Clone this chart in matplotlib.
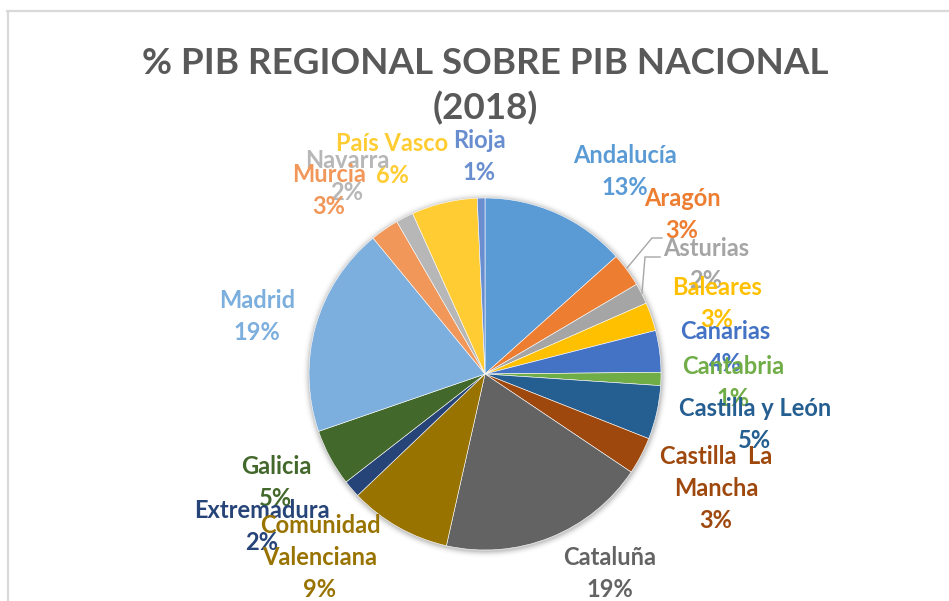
import matplotlib
matplotlib.use("Agg")
import matplotlib.pyplot as plt
from matplotlib.patches import Circle
from matplotlib.lines import Line2D

# Share of national GDP by autonomous community, 2018 (%)
regions = ["Andalucía", "Aragón", "Asturias", "Baleares", "Canarias", "Cantabria",
           "Castilla y León", "Castilla  La\nMancha", "Cataluña",
           "Comunidad\nValenciana", "Extremadura", "Galicia", "Madrid", "Murcia",
           "Navarra", "País Vasco", "Rioja"]
gdp_share = [13.3, 3.1, 1.9, 2.6, 3.8, 1.2, 4.9, 3.4, 19.0, 9.3, 1.6, 5.2, 19.2,
             2.6, 1.6, 6.0, 0.7]
title = "% PIB REGIONAL SOBRE PIB NACIONAL\n(2018)"

# Office palette for 17 points
colors = ["#5B9BD5", "#ED7D31", "#A5A5A5", "#FFC000", "#4472C4", "#70AD47",
          "#255E91", "#9E480E", "#636363", "#997300", "#264478", "#43682B",
          "#7CAFDD", "#F1975A", "#B7B7B7", "#FFCD33", "#698ED0"]

W, H = 949, 601
fig = plt.figure(figsize=(W / 100, H / 100), dpi=100)
fig.patch.set_facecolor("white")
ax = fig.add_axes([0, 0, 1, 1])


def Y(y):
    """Pixel row (from top) to data y."""
    return H - y


cx, cy, r = 485, 374, 176

# soft shadow around the pie
for k, a in zip(range(1, 8), [0.06, 0.05, 0.04, 0.03, 0.02, 0.012, 0.006]):
    ax.add_patch(Circle((cx + 0.5, Y(cy) - 1), r + k, facecolor="black",
                        edgecolor="none", alpha=a, zorder=0))

wedges, _ = ax.pie(gdp_share, colors=colors, startangle=90, counterclock=False,
                   center=(cx, Y(cy)), radius=r,
                   wedgeprops=dict(edgecolor="white", linewidth=0.4))
for w in wedges:
    w.set_zorder(2)

ax.set_xlim(0, W)
ax.set_ylim(0, H)
ax.set_aspect("equal")
ax.axis("off")

font = "Lato"
total = sum(gdp_share)

# label layout: centre x and first-line centre y (pixels), draw order
label_pos = [(625, 155), (682, 198), (706, 248), (717, 287), (725, 331),
             (733, 366), (755, 408), (716, 456), (610, 557), (320, 525),
             (262, 510), (276, 466), (257, 300), (329, 174), (347, 160),
             (392, 143), (479, 140)]
label_z = [5, 6, 5, 6, 5, 6, 7, 5, 5, 7, 6, 5, 5, 7, 6, 5, 5]
pitch = 32

for name, v, col, (lx, ly), z in zip(regions, gdp_share, colors, label_pos, label_z):
    lines = name.split("\n") + [f"{round(v / total * 100):d}%"]
    for i, line in enumerate(lines):
        ax.text(lx, Y(ly + i * pitch + 8), line, ha="center", va="baseline",
                fontsize=17, fontweight="bold", color=col, family=font,
                zorder=z)

# leader lines for the crowded upper-right labels
for pts in ([(627, 268), (652, 238), (662, 238)],
            [(642, 293), (645, 257), (660, 257)]):
    ax.plot([p[0] for p in pts], [Y(p[1]) for p in pts], color="#A6A6A6",
            lw=1.0, zorder=3, solid_joinstyle="miter")

# title
t1, t2 = title.split("\n")
ax.text(485, Y(74), t1, ha="center", va="baseline", fontsize=26.5,
        fontweight="bold", color="#595959", family=font, zorder=4)
ax.text(485, Y(119), t2, ha="center", va="baseline", fontsize=26.5,
        fontweight="bold", color="#595959", family=font, zorder=4)

# chart-area frame (top and left edges)
fig.add_artist(Line2D([7 / W, 1], [1 - 10.5 / H, 1 - 10.5 / H],
                      color="#D9D9D9", lw=1.6, transform=fig.transFigure))
fig.add_artist(Line2D([8 / W, 8 / W], [0, 1 - 10.5 / H],
                      color="#D9D9D9", lw=1.6, transform=fig.transFigure))

fig.savefig("out.png", dpi=100)
